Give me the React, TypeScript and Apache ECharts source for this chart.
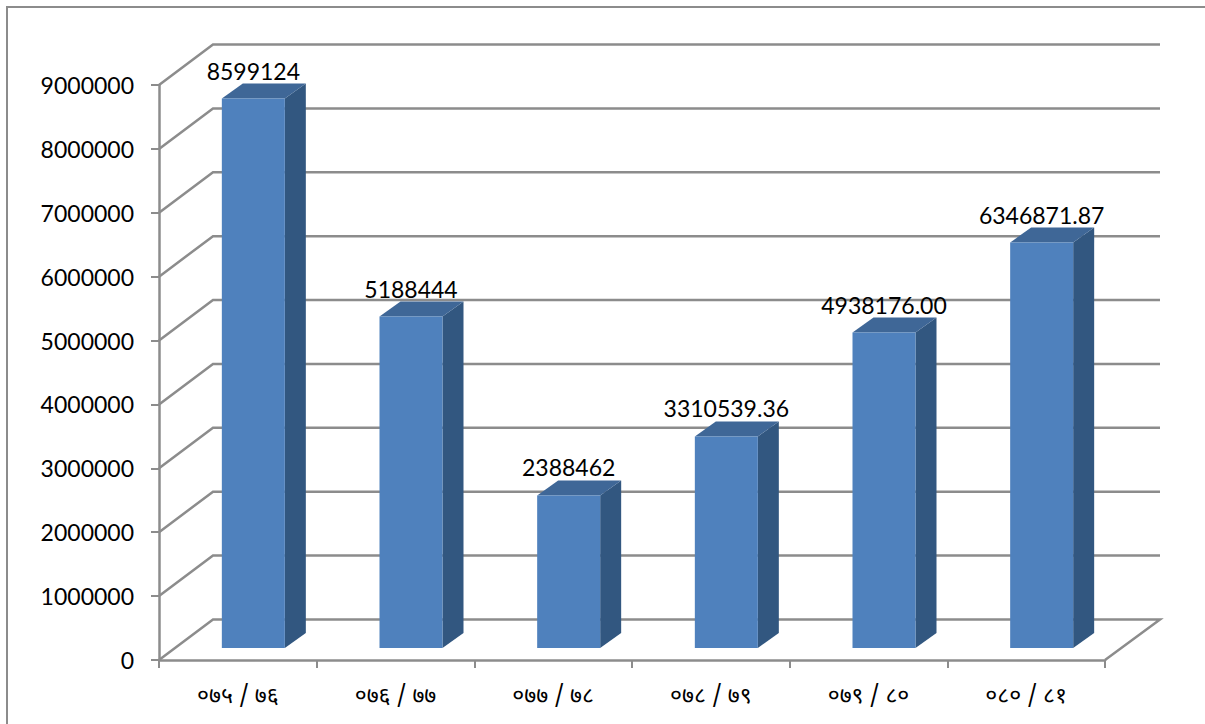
import React, { useEffect, useRef } from "react";
import * as echarts from "echarts";

const categories = ["०७५ / ७६", "०७६ / ७७", "०७७ / ७८", "०७८ / ७९", "०७९ / ८०", "०८० / ८१"];
const values = [8599124, 5188444, 2388462, 3310539.36, 4938176.0, 6346871.87];
const valueLabels = ["8599124", "5188444", "2388462", "3310539.36", "4938176.00", "6346871.87"];
const gridValues = [0, 1000000, 2000000, 3000000, 4000000, 5000000, 6000000, 7000000, 8000000, 9000000];

const GRAY = "#8c8c8c";
const FRONT = "#4f81bd";
const SIDE = "#325780";
const TOP = "#3f6797";
const FONT = "Lato, Carlito, 'Open Sans', sans-serif";
const WALL_DX = 54;
const WALL_DY = 40.5;
const WALL_END = 1160;

export default function App() {
  const ref = useRef<HTMLDivElement>(null);
  useEffect(() => {
    document.body.style.margin = "0";
    const chart = echarts.init(ref.current!, undefined, { renderer: "svg" });
    chart.setOption({
      animation: false,
      backgroundColor: "#ffffff",
      graphic: [
        {
          type: "rect",
          silent: true,
          z: -1,
          shape: { x: 7, y: 7, width: 1210, height: 730 },
          style: { fill: "none", stroke: GRAY, lineWidth: 2 },
        },
      ],
      grid: { left: 159, top: 85, width: 946, height: 575 },
      xAxis: {
        type: "category",
        data: categories,
        axisLine: { lineStyle: { color: GRAY, width: 2.5 } },
        axisTick: { show: true, alignWithLabel: false, length: 8, lineStyle: { color: GRAY, width: 2 } },
        axisLabel: {
          color: "#000",
          fontSize: 23,
          margin: 25,
          fontFamily: "'Noto Sans Devanagari', 'Noto Sans', 'Lohit Devanagari', sans-serif",
        },
      },
      yAxis: {
        type: "value",
        min: 0,
        max: 9000000,
        interval: 1000000,
        splitLine: { show: false },
        axisLine: { show: true, lineStyle: { color: GRAY, width: 2.5 } },
        axisTick: { show: true, length: 8, lineStyle: { color: GRAY, width: 2 } },
        axisLabel: {
          color: "#000",
          fontSize: 23,
          margin: 25,
          fontFamily: FONT,
          formatter: (v: number) => String(v),
        },
      },
      series: [
        {
          type: "custom",
          name: "grid",
          data: gridValues.map((v) => [0, v]),
          encode: { x: 0, y: 1 },
          z: 1,
          silent: true,
          renderItem: (params: any, api: any) => {
            const v = api.value(1);
            const y = api.coord([0, v])[1];
            const x0 = params.coordSys.x;
            const x1 = x0 + params.coordSys.width;
            const points: number[][] = [
              [x0, y],
              [x0 + WALL_DX, y - WALL_DY],
              [WALL_END, y - WALL_DY],
            ];
            if (v === 0) points.push([x1, y]);
            return {
              type: "polyline",
              shape: { points },
              style: { fill: "none", stroke: GRAY, lineWidth: 2.5 },
            };
          },
        },
        {
          type: "custom",
          name: "bars",
          data: values.map((v, i) => [i, v]),
          encode: { x: 0, y: 1 },
          z: 2,
          silent: true,
          renderItem: (params: any, api: any) => {
            const i = api.value(0);
            const top = api.coord([i, api.value(1)]);
            const base = api.coord([i, 0]);
            const w = 63;
            const dx = 21;
            const dy = 15;
            const lift = 12;
            const shift = 15.5;
            const l = top[0] + shift - w / 2;
            const r = l + w;
            const t = top[1] - lift;
            const b = base[1] - lift;
            return {
              type: "group",
              children: [
                {
                  type: "polygon",
                  shape: { points: [[r, t], [r + dx, t - dy], [r + dx, b - dy], [r, b]] },
                  style: { fill: SIDE },
                },
                {
                  type: "polygon",
                  shape: { points: [[l, t], [l + dx, t - dy], [r + dx, t - dy], [r, t]] },
                  style: { fill: TOP },
                },
                {
                  type: "rect",
                  shape: { x: l, y: t, width: w, height: b - t },
                  style: { fill: FRONT },
                },
                {
                  type: "text",
                  z2: 10,
                  style: {
                    x: l + w / 2,
                    y: t - 28,
                    text: valueLabels[params.dataIndex],
                    align: "center",
                    verticalAlign: "middle",
                    fontSize: 23,
                    fontFamily: FONT,
                    fill: "#000",
                  },
                },
              ],
            };
          },
        },
      ],
    });
    return () => chart.dispose();
  }, []);
  return <div ref={ref} style={{ position: "fixed", left: 0, top: 0, width: 1205, height: 724 }} />;
}
